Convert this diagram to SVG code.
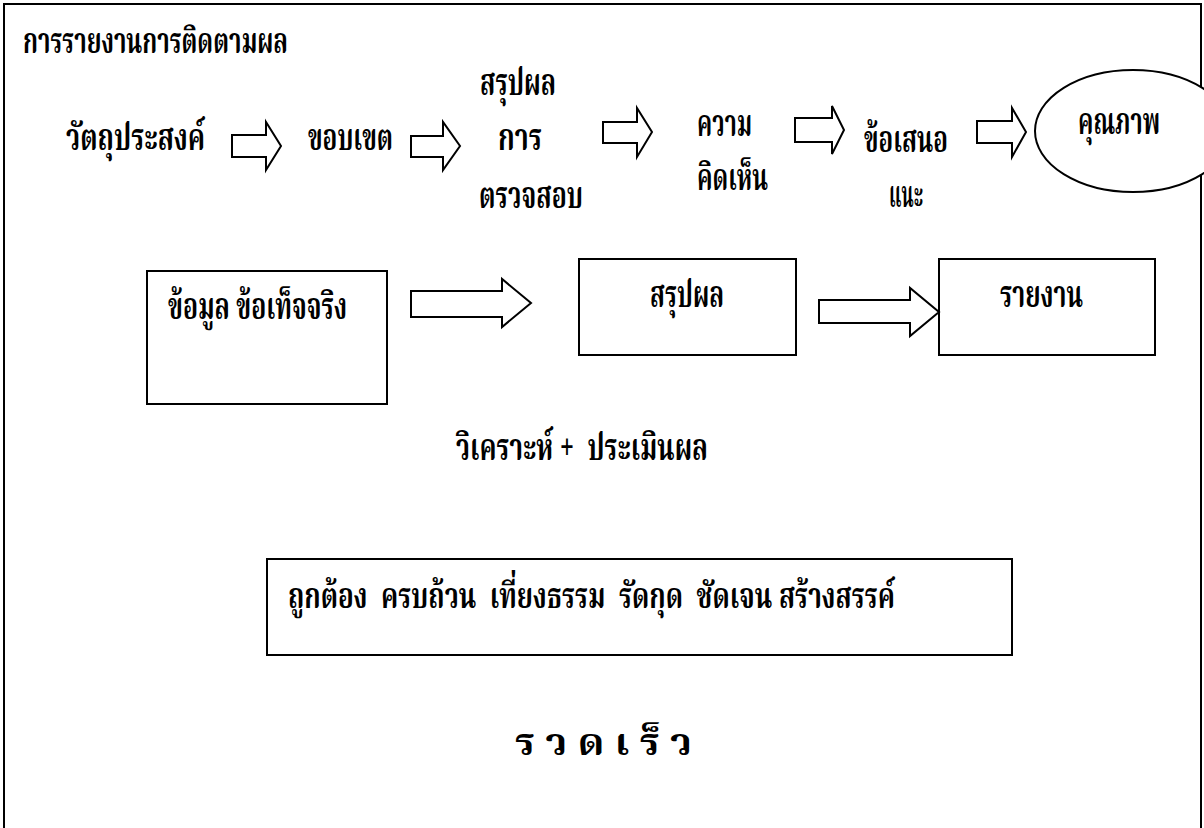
<svg xmlns="http://www.w3.org/2000/svg" width="1204" height="828" viewBox="0 0 1204 828">
<style>
  .t { font-family: "Noto Serif Thai", "Noto Sans Thai", "Noto Sans", "DejaVu Sans", serif; font-weight: bold; font-size: 38px; fill: #000; white-space: pre; }
  .s { font-size: 36px; }
  .box { fill: #fff; stroke: #000; stroke-width: 2; }
  .arr { fill: #fff; stroke: #000; stroke-width: 2; stroke-linejoin: miter; }
</style>
<rect x="0" y="0" width="1204" height="828" fill="#fff"/>
<rect id="page" x="4" y="4" width="1197" height="900" fill="none" stroke="#000" stroke-width="2"/>

<g id="title"><text class="t s" x="23" y="53" textLength="265" lengthAdjust="spacingAndGlyphs">การรายงานการติดตามผล</text></g>

<g id="n-objective"><text class="t" x="66" y="150" textLength="139" lengthAdjust="spacingAndGlyphs">วัตถุประสงค์</text></g>
<g id="n-scope"><text class="t" x="308" y="150" textLength="85" lengthAdjust="spacingAndGlyphs">ขอบเขต</text></g>
<g id="n-summary-audit">
  <text class="t" x="480" y="95" textLength="76" lengthAdjust="spacingAndGlyphs">สรุปผล</text>
  <text class="t" x="498" y="150" textLength="44" lengthAdjust="spacingAndGlyphs">การ</text>
  <text class="t" x="479" y="208" textLength="104" lengthAdjust="spacingAndGlyphs">ตรวจสอบ</text>
</g>
<g id="n-opinion">
  <text class="t" x="697" y="136" textLength="55" lengthAdjust="spacingAndGlyphs">ความ</text>
  <text class="t" x="697" y="190" textLength="71" lengthAdjust="spacingAndGlyphs">คิดเห็น</text>
</g>
<g id="n-recommend">
  <text class="t" x="864" y="152" textLength="84" lengthAdjust="spacingAndGlyphs">ข้อเสนอ</text>
  <text class="t" x="889" y="207" textLength="34" lengthAdjust="spacingAndGlyphs">แนะ</text>
</g>
<g id="n-quality">
  <ellipse class="box" cx="1133" cy="131" rx="98" ry="61"/>
  <text class="t" x="1078" y="134" textLength="82" lengthAdjust="spacingAndGlyphs">คุณภาพ</text>
</g>

<g id="n-facts">
  <rect class="box" x="147" y="271" width="240" height="133"/>
  <text class="t" x="168" y="319" textLength="179" lengthAdjust="spacingAndGlyphs">ข้อมูล ข้อเท็จจริง</text>
</g>
<g id="n-conclusion">
  <rect class="box" x="579" y="259" width="217" height="96"/>
  <text class="t" x="650" y="307" textLength="74" lengthAdjust="spacingAndGlyphs">สรุปผล</text>
</g>
<g id="n-report">
  <rect class="box" x="939" y="259" width="216" height="96"/>
  <text class="t" x="1000" y="307" textLength="83" lengthAdjust="spacingAndGlyphs">รายงาน</text>
</g>
<g id="n-analysis"><text class="t" x="456" y="460" textLength="252" lengthAdjust="spacingAndGlyphs">วิเคราะห์ +  ประเมินผล</text></g>
<g id="n-criteria">
  <rect class="box" x="267" y="559" width="745" height="96" stroke-width="2.5"/>
  <text class="t s" x="288" y="608" textLength="607" lengthAdjust="spacingAndGlyphs">ถูกต้อง  ครบถ้วน  เที่ยงธรรม  รัดกุด  ชัดเจน สร้างสรรค์</text>
</g>
<g id="n-fast"><text class="t" x="515" y="755" textLength="177" lengthAdjust="spacingAndGlyphs">ร ว ด เ ร็ ว</text></g>

<g id="connectors">
  <path class="arr" d="M232 135 H266 V122 L281 146 L266 170 V157 H232 Z"/>
  <path class="arr" d="M411 136 H443 V122 L460 146 L443 170 V157 H411 Z"/>
  <path class="arr" d="M603 122 H637 V108 L652 132 L637 157 V143 H603 Z"/>
  <path class="arr" d="M795 118 H832 V106 L844 130 L832 154 V142 H795 Z"/>
  <path class="arr" d="M977 121 H1012 V108 L1026 132 L1012 157 V143 H977 Z"/>
  <path class="arr" d="M411 291 H502 V279 L531 303 L502 327 V317 H411 Z"/>
  <path class="arr" d="M819 300 H910 V288 L939 312 L910 336 V323 H819 Z"/>
</g>
</svg>
